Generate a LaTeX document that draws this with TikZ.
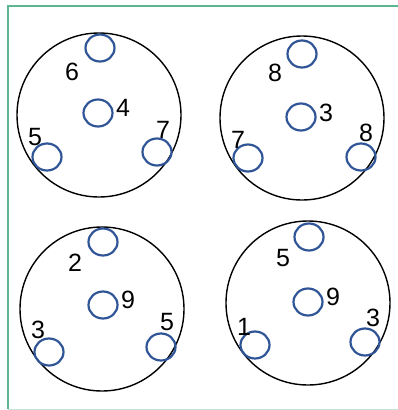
\documentclass[tikz,border=0pt]{standalone}
\usepackage{fontspec}
\setmainfont{Liberation Sans}
\usetikzlibrary{shapes.geometric}
\definecolor{framegreen}{RGB}{92,182,146}
\definecolor{holeblue}{RGB}{47,85,151}

\begin{document}
\begin{tikzpicture}[x=1pt,y=-1pt,
  plate/.style={draw=black,line width=1.4pt,circle,minimum size=164pt,inner sep=0pt},
  hole/.style={draw=holeblue,line width=2.2pt,ellipse,minimum width=29pt,minimum height=27pt,inner sep=0pt},
  num/.style={font=\fontsize{25}{25}\selectfont,inner sep=0pt}]
  \useasboundingbox (0,0) rectangle (398,410);
  \draw[framegreen,line width=2pt] (8,409) -- (8,6) -- (398,6);
  \draw[framegreen!35,line width=1pt] (8,409) -- (398,409);
  %
  \node[plate] (p1) at (99,115) {};
  \node[hole] (p1t) at (100,48) {};
  \node[hole] (p1c) at (98,113) {};
  \node[hole] (p1l) at (47,157) {};
  \node[hole] (p1r) at (157,152) {};
  \node[num] (n1t) at (72,72) {6};
  \node[num] (n1c) at (123,108) {4};
  \node[num] (n1l) at (35,137) {5};
  \node[num] (n1r) at (163,130) {7};
  %
  \node[plate] (p2) at (302,118) {};
  \node[hole] (p2t) at (302,54) {};
  \node[hole] (p2c) at (301,117) {};
  \node[hole] (p2l) at (248,158) {};
  \node[hole] (p2r) at (361,157) {};
  \node[num] (n2t) at (275,73) {8};
  \node[num] (n2c) at (326,113) {3};
  \node[num] (n2l) at (238,140) {7};
  \node[num] (n2r) at (366,133) {8};
  %
  \node[plate] (p3) at (102,309) {};
  \node[hole] (p3t) at (103,242) {};
  \node[hole] (p3c) at (103,305) {};
  \node[hole] (p3l) at (49,352) {};
  \node[hole] (p3r) at (161,347) {};
  \node[num] (n3t) at (75,263) {2};
  \node[num] (n3c) at (128,300) {9};
  \node[num] (n3l) at (38,330) {3};
  \node[num] (n3r) at (167,322) {5};
  %
  \node[plate] (p4) at (308,303) {};
  \node[hole] (p4t) at (309,237) {};
  \node[hole] (p4c) at (308,302) {};
  \node[hole] (p4l) at (255,345) {};
  \node[hole] (p4r) at (365,342) {};
  \node[num] (n4t) at (283,258) {5};
  \node[num] (n4c) at (333,297) {9};
  \node[num] (n4l) at (244,327) {1};
  \node[num] (n4r) at (373,318) {3};
  %
\end{tikzpicture}
\end{document}
